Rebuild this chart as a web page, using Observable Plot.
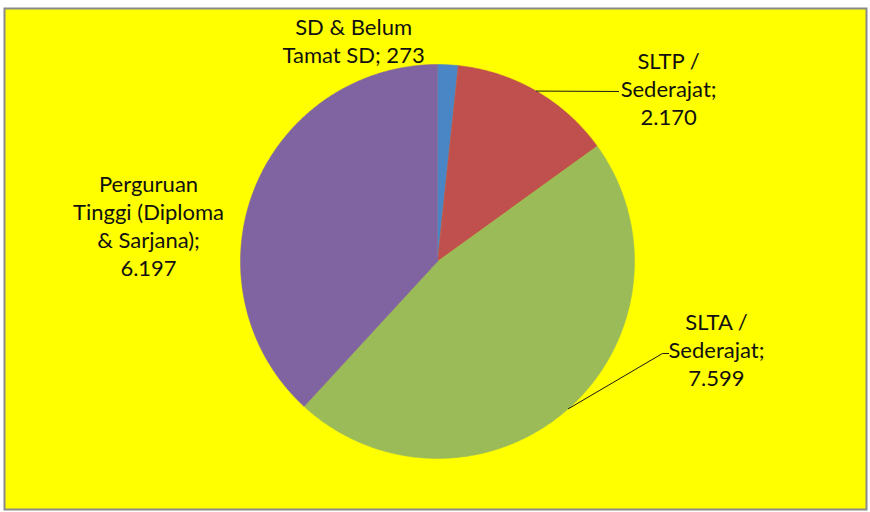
<!DOCTYPE html>
<html>
<head>
<meta charset="utf-8">
<script src="https://cdn.jsdelivr.net/npm/d3@7"></script>
<script src="https://cdn.jsdelivr.net/npm/@observablehq/plot@0.6"></script>
<style>
  html, body { margin: 0; padding: 0; background: #ffffff; }
  #chart svg { display: block; }
</style>
</head>
<body>
<div id="chart"></div>
<script>
// ---- data ----
const categories = ["SD & Belum Tamat SD", "SLTP / Sederajat", "SLTA / Sederajat", "Perguruan Tinggi (Diploma & Sarjana)"];
const values = [273, 2170, 7599, 6197];
const valueLabels = ["273", "2.170", "7.599", "6.197"];
const labelLines = [
  ["SD & Belum", "Tamat SD; 273"],
  ["SLTP /", "Sederajat;", "2.170"],
  ["SLTA /", "Sederajat;", "7.599"],
  ["Perguruan", "Tinggi (Diploma", "& Sarjana);", "6.197"]
];
const colors = ["#4a86c5", "#c0504d", "#9bbb59", "#8064a2"];

// ---- layout (pie units: radius = 1, y up) ----
const W = 870, H = 512, R = 197, CX = 437, CY = 261;
const labelPos = [[-0.426, 1.122], [1.173, 0.883], [1.416, -0.442], [-1.467, 0.183]];
const leaderEnds = [null, [[0.919, 0.863]], [[1.142, -0.467], [1.173, -0.467]], null];

// ---- geometry ----
const arcs = d3.pie().sort(null).value(d => d)(values);
const slicePts = [];
arcs.forEach((a, i) => {
  const n = Math.max(4, Math.ceil((a.endAngle - a.startAngle) / (Math.PI / 360)));
  slicePts.push({cat: categories[i], x: 0, y: 0});
  for (let k = 0; k <= n; k++) {
    const t = a.startAngle + (a.endAngle - a.startAngle) * k / n;
    slicePts.push({cat: categories[i], x: Math.sin(t), y: Math.cos(t)});
  }
  slicePts.push({cat: categories[i], x: 0, y: 0});
});

const leaderPts = [];
arcs.forEach((a, i) => {
  if (!leaderEnds[i]) return;
  const m = (a.startAngle + a.endAngle) / 2;
  leaderPts.push({cat: categories[i], x: Math.sin(m), y: Math.cos(m)});
  leaderEnds[i].forEach(p => leaderPts.push({cat: categories[i], x: p[0], y: p[1]}));
});

const labels = categories.map((c, i) => ({
  cat: c, text: labelLines[i].join("\n"), x: labelPos[i][0], y: labelPos[i][1]
}));

const fontSize = 22;
const chart = Plot.plot({
  width: W, height: H,
  marginTop: 8, marginLeft: 4, marginRight: 4, marginBottom: 3,
  style: {background: "#ffffff", fontFamily: "Lato, 'Open Sans', sans-serif"},
  x: {domain: [-CX / R, (W - CX) / R], range: [0, W], axis: null},
  y: {domain: [-(H - CY) / R, CY / R], range: [H, 0], axis: null},
  color: {domain: categories, range: colors},
  marks: [
    Plot.frame({fill: "#ffff00", stroke: "#8a8a8a", strokeWidth: 2}),
    Plot.line(slicePts, {x: "x", y: "y", z: "cat", fill: "cat", stroke: "cat", strokeWidth: 0.5, curve: "linear"}),
    Plot.line(leaderPts, {x: "x", y: "y", z: "cat", stroke: "#1a1a1a", strokeWidth: 1}),
    Plot.text(labels, {x: "x", y: "y", text: "text", fill: "#111111", fontSize: fontSize,
      lineHeight: 28 / fontSize, lineAnchor: "middle", textAnchor: "middle"})
  ]
});
document.getElementById("chart").appendChild(chart);
</script>
</body>
</html>
